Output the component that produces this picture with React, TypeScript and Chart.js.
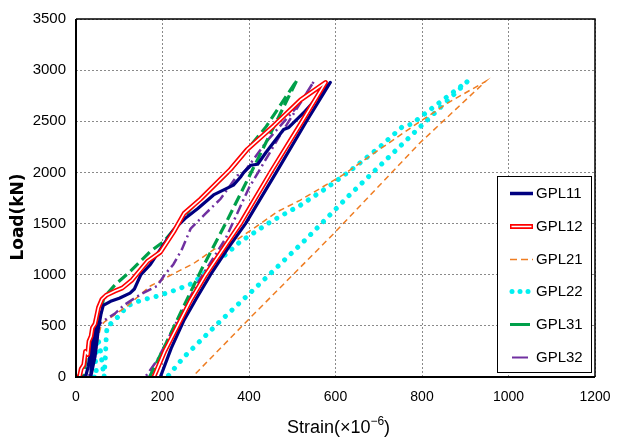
import React, { useEffect, useRef } from 'react';
import { Chart, registerables } from 'chart.js';

Chart.register(...registerables);

// ---- axis ticks ----
const xTickValues = [0, 200, 400, 600, 800, 1000, 1200];
const yTickValues = [0, 500, 1000, 1500, 2000, 2500, 3000, 3500];

// ---- series names ----
const seriesNames = ['GPL11', 'GPL12', 'GPL21', 'GPL22', 'GPL31', 'GPL32'];

// ---- GPL11 ----
const gpl11Strain = [0, 22, 28, 36, 44, 50, 42, 36, 34, 44, 52, 58, 63, 80, 100, 125, 135, 150, 172, 200, 226, 255, 281, 318, 364, 380, 388, 404, 420, 440, 480, 492, 530, 560, 588,
  533, 463, 392, 350, 311, 280, 249, 220, 195];
const gpl11Load = [0, 0, 100, 300, 460, 520, 300, 120, 0, 200, 480, 620, 700, 740, 770, 820, 860, 1000, 1100, 1280, 1440, 1560, 1645, 1780, 1876, 1953, 2000, 2070, 2080, 2200, 2420, 2440, 2600, 2740, 2880,
  2500, 2000, 1500, 1250, 1000, 780, 550, 280, 0];

// ---- GPL12 ----
const gpl12Strain = [0, 8, 12, 18, 22, 27, 30, 35, 38, 44, 48, 52, 60, 70, 90, 107, 130, 165, 195, 226, 250, 288, 357, 396, 457, 519, 577,
  520, 450, 380, 340, 300, 265, 235, 205, 180];
const gpl12Load = [0, 0, 80, 120, 250, 220, 350, 400, 480, 520, 600, 680, 760, 800, 840, 870, 950, 1130, 1220, 1420, 1600, 1740, 2030, 2225, 2456, 2708, 2880,
  2480, 2000, 1500, 1250, 1000, 750, 500, 250, 0];

// ---- GPL21 ----
const gpl21Strain = [0, 35, 45, 52, 58, 66, 87, 120, 172, 230, 272, 320, 373, 420, 465, 519, 619, 700, 781, 860, 947,
  796, 596, 403, 269];
const gpl21Load = [0, 0, 200, 400, 500, 540, 600, 700, 890, 1020, 1110, 1250, 1344, 1480, 1615, 1730, 1980, 2220, 2456, 2680, 2890,
  2292, 1402, 580, 0];

// ---- GPL22 ----
const gpl22Strain = [0, 48, 45, 50, 55, 65, 68, 70, 72, 80, 100, 119, 150, 188, 230, 272, 300, 327, 355, 380, 415, 450, 519, 580, 635, 700, 757, 775, 830, 905,
  789, 635, 530, 427, 327, 249, 211];
const gpl22Load = [0, 0, 150, 380, 300, 0, 200, 400, 500, 520, 600, 695, 750, 790, 850, 920, 1030, 1130, 1230, 1325, 1420, 1518, 1680, 1850, 2020, 2240, 2456, 2470, 2650, 2890,
  2418, 1790, 1340, 920, 520, 193, 0];

// ---- GPL31 ----
const gpl31Strain = [0, 18, 22, 28, 35, 45, 52, 57, 64, 90, 126, 172, 203, 242, 265, 310, 357, 440, 511,
  405, 348, 290, 250, 205, 170];
const gpl31Load = [0, 0, 150, 300, 420, 500, 560, 620, 775, 900, 1035, 1228, 1325, 1518, 1645, 1830, 2020, 2450, 2904,
  2000, 1518, 1050, 700, 300, 0];

// ---- GPL32 ----
const gpl32Strain = [0, 30, 38, 45, 52, 60, 75, 90, 110, 150, 188, 205, 225, 245, 265, 300, 334, 373, 388, 411, 440, 465, 519, 550,
  470, 400, 346, 288, 234, 188, 160];
const gpl32Load = [0, 0, 150, 350, 500, 540, 580, 620, 700, 810, 890, 1000, 1100, 1250, 1450, 1600, 1740, 1970, 2000, 2130, 2300, 2420, 2680, 2890,
  2350, 1850, 1354, 967, 551, 164, 0];

const NAVY = '#000080';
const RED = '#ff0000';
const ORANGE = '#ef7d22';
const CYAN = '#00f0f0';
const GREEN = '#00a04a';
const PURPLE = '#7030a0';

function toPoints(xs: number[], ys: number[]) {
  return xs.map((x, i) => ({ x, y: ys[i] }));
}

const FONT = '"Liberation Sans", Arial, sans-serif';

const framePlugin = {
  id: 'frameAndTitles',
  afterDraw(chart: any) {
    const { ctx, chartArea } = chart;
    const { left, right, top, bottom } = chartArea;
    ctx.save();
    // frame
    ctx.strokeStyle = '#000';
    ctx.lineWidth = 1.5;
    ctx.beginPath();
    ctx.moveTo(left, top);
    ctx.lineTo(right, top);
    ctx.lineTo(right, bottom);
    ctx.stroke();
    ctx.lineWidth = 2;
    ctx.beginPath();
    ctx.moveTo(left, top);
    ctx.lineTo(left, bottom);
    ctx.lineTo(right, bottom);
    ctx.stroke();

    // x axis title with superscript
    ctx.fillStyle = '#000';
    ctx.textBaseline = 'alphabetic';
    ctx.textAlign = 'left';
    const mainFont = `18px ${FONT}`;
    const supFont = `12px ${FONT}`;
    const part1 = 'Strain(×10';
    const sup = '−6';
    const part3 = ')';
    ctx.font = mainFont;
    const w1 = ctx.measureText(part1).width;
    const w3 = ctx.measureText(part3).width;
    ctx.font = supFont;
    const w2 = ctx.measureText(sup).width;
    const total = w1 + w2 + w3;
    let cx = (left + right) / 2 + 3 - total / 2;
    const base = bottom + 56;
    ctx.font = mainFont;
    ctx.fillText(part1, cx, base);
    cx += w1;
    ctx.font = supFont;
    ctx.fillText(sup, cx, base - 8);
    cx += w2;
    ctx.font = mainFont;
    ctx.fillText(part3, cx, base);

    // y axis title
    ctx.save();
    ctx.textAlign = 'center';
    ctx.textBaseline = 'middle';
    ctx.translate(19, (top + bottom) / 2 + 19);
    ctx.rotate(-Math.PI / 2);
    ctx.font = `bold 17px "DejaVu Sans", ${FONT}`;
    ctx.fillText('Load(kN)', 0, 0);
    ctx.restore();

    // legend
    const bw = 94, bh = 196;
    const bx = right - 98, by = bottom - 201;
    ctx.fillStyle = '#fff';
    ctx.fillRect(bx, by, bw, bh);
    ctx.strokeStyle = '#000';
    ctx.lineWidth = 1;
    ctx.strokeRect(bx + 0.5, by + 0.5, bw, bh);
    const step = 32.8;
    const y0 = by + 17;
    const sx = bx + 13, ex = bx + 36, tx = bx + 39;
    seriesNames.forEach((name, i) => {
      const y = Math.round(y0 + i * step) + 0.5;
      ctx.save();
      ctx.lineCap = 'butt';
      ctx.setLineDash([]);
      if (i === 0) {
        ctx.strokeStyle = NAVY; ctx.lineWidth = 3.5;
        ctx.beginPath(); ctx.moveTo(sx, y); ctx.lineTo(ex, y); ctx.stroke();
      } else if (i === 1) {
        ctx.strokeStyle = RED; ctx.lineWidth = 5;
        ctx.beginPath(); ctx.moveTo(sx, y); ctx.lineTo(ex, y); ctx.stroke();
        ctx.strokeStyle = '#fff'; ctx.lineWidth = 1.5;
        ctx.beginPath(); ctx.moveTo(sx + 1.5, y); ctx.lineTo(ex - 1.5, y); ctx.stroke();
      } else if (i === 2) {
        ctx.strokeStyle = ORANGE; ctx.lineWidth = 1.5; ctx.setLineDash([7, 4]);
        ctx.beginPath(); ctx.moveTo(sx, y); ctx.lineTo(ex, y); ctx.stroke();
      } else if (i === 3) {
        ctx.fillStyle = CYAN;
        for (let k = 0; k < 3; k++) {
          ctx.beginPath(); ctx.arc(sx + 2 + k * 8, y, 2.5, 0, Math.PI * 2); ctx.fill();
        }
      } else if (i === 4) {
        ctx.strokeStyle = GREEN; ctx.lineWidth = 3;
        ctx.beginPath(); ctx.moveTo(sx, y); ctx.lineTo(ex - 3, y); ctx.stroke();
      } else {
        ctx.strokeStyle = PURPLE; ctx.lineWidth = 2;
        ctx.beginPath(); ctx.moveTo(sx + 2, y); ctx.lineTo(ex - 5, y); ctx.stroke();
      }
      ctx.restore();
      ctx.fillStyle = '#000';
      ctx.font = `15px ${FONT}`;
      ctx.textAlign = 'left';
      ctx.textBaseline = 'middle';
      ctx.fillText(name, tx, y);
    });
    ctx.restore();
  },
};

export default function App() {
  const canvasRef = useRef<HTMLCanvasElement | null>(null);

  useEffect(() => {
    document.body.style.margin = '0';
    const canvas = canvasRef.current;
    if (!canvas) return;
    const common = { showLine: true, pointRadius: 0, pointHoverRadius: 0, fill: false, tension: 0 };
    const chart = new Chart(canvas, {
      type: 'scatter',
      data: {
        datasets: [
          { ...common, label: 'GPL12w', data: toPoints(gpl12Strain, gpl12Load), borderColor: '#ffffff', borderWidth: 1.6, borderJoinStyle: 'round', order: 0 },
          { ...common, label: 'GPL12', data: toPoints(gpl12Strain, gpl12Load), borderColor: RED, borderWidth: 4.8, borderJoinStyle: 'round', order: 1 },
          { ...common, label: 'GPL11', data: toPoints(gpl11Strain, gpl11Load), borderColor: NAVY, borderWidth: 3.2, borderJoinStyle: 'round', order: 2 },
          { ...common, label: 'GPL31', data: toPoints(gpl31Strain, gpl31Load), borderColor: GREEN, borderWidth: 3.2, borderDash: [11, 5], order: 3 },
          { ...common, label: 'GPL32', data: toPoints(gpl32Strain, gpl32Load), borderColor: PURPLE, borderWidth: 2.5, borderDash: [10, 4, 2, 4], order: 4 },
          { ...common, label: 'GPL21', data: toPoints(gpl21Strain, gpl21Load), borderColor: ORANGE, borderWidth: 1.5, borderDash: [6, 4], order: 5 },
          { ...common, label: 'GPL22', data: toPoints(gpl22Strain, gpl22Load), borderColor: CYAN, borderWidth: 5, borderDash: [0.1, 9], borderCapStyle: 'round', order: 6 },
        ] as any,
      },
      options: {
        animation: false,
        responsive: false,
        devicePixelRatio: 1,
        layout: { padding: { left: 0, right: 28, top: 15, bottom: 0 } },
        plugins: { legend: { display: false }, tooltip: { enabled: false } },
        scales: {
          x: {
            type: 'linear',
            min: 0,
            max: 1200,
            afterBuildTicks: (scale: any) => { scale.ticks = xTickValues.map((v) => ({ value: v })); },
            afterFit: (scale: any) => { scale.height = 63; },
            ticks: { color: '#000', font: { size: 14, family: FONT }, padding: 12, maxRotation: 0, callback: (v: any) => String(v) },
            grid: { color: '#8a8a8a', lineWidth: 1, drawTicks: false },
            border: { display: false, dash: [2, 2] },
          },
          y: {
            type: 'linear',
            min: 0,
            max: 3500,
            afterBuildTicks: (scale: any) => { scale.ticks = yTickValues.map((v) => ({ value: v })); },
            afterFit: (scale: any) => { scale.width = 76; },
            ticks: { color: '#000', font: { size: 15, family: FONT }, padding: 10, callback: (v: any) => String(v) },
            grid: { color: '#8a8a8a', lineWidth: 1, drawTicks: false },
            border: { display: false, dash: [2, 2] },
          },
        },
      } as any,
      plugins: [framePlugin],
    });
    return () => chart.destroy();
  }, []);

  return (
    <div style={{ position: 'absolute', left: 0, top: 0, width: 623, height: 440, background: '#fff' }}>
      <canvas ref={canvasRef} width={623} height={440} style={{ width: 623, height: 440, display: 'block' }} />
    </div>
  );
}
